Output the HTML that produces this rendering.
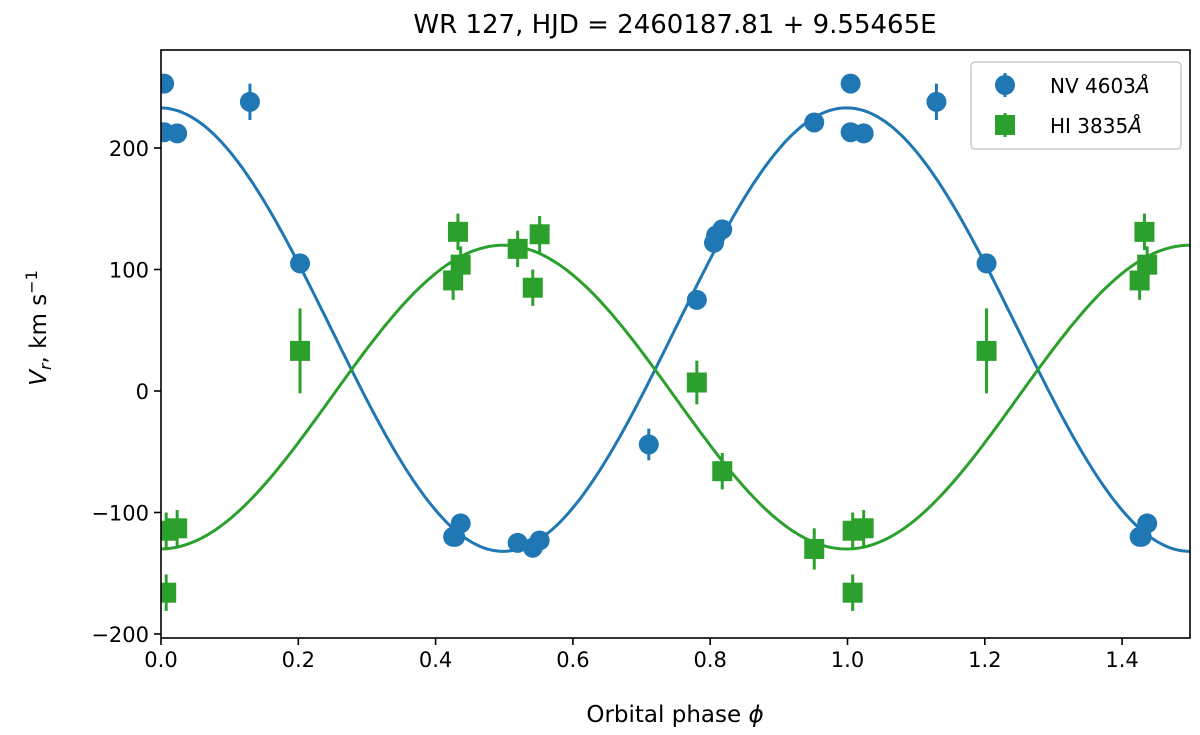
<!DOCTYPE html>
<html><head><meta charset="utf-8"><style>
html,body{margin:0;padding:0;background:#fff;}
svg{display:block;font-family:"DejaVu Sans","Liberation Sans",sans-serif;}
</style></head><body>
<svg id="chart" width="1200" height="735" viewBox="0 0 1200 735">
<defs><clipPath id="clip"><rect x="161" y="50" width="1029" height="588"/></clipPath></defs>
<text x="675" y="33" font-size="26" text-anchor="middle">WR 127, HJD = 2460187.81 + 9.55465E</text>
<g id="curves" clip-path="url(#clip)"></g>
<g id="marks" clip-path="url(#clip)"></g>
<rect x="161" y="50" width="1029" height="588" fill="none" stroke="#000" stroke-width="1.6"/>
<g id="xticks"></g>
<g id="yticks"></g>
<text x="675" y="722" font-size="23" text-anchor="middle">Orbital phase <tspan font-style="italic">ϕ</tspan></text>
<text transform="translate(46,328) rotate(-90)" font-size="23" text-anchor="middle"><tspan font-style="italic">V</tspan><tspan font-style="italic" font-size="16" dy="5">r</tspan><tspan dy="-5">,  km s</tspan><tspan font-size="16" dy="-9">−1</tspan></text>
<g>
<rect x="971" y="62" width="210" height="87" rx="4" fill="#fff" stroke="#ccc" stroke-width="1.5"/>
<g>
<line x1="1005" y1="73" x2="1005" y2="97" stroke="#1f77b4" stroke-width="3"/>
<circle cx="1005" cy="85" r="10" fill="#1f77b4"/>
<text x="1050" y="93" font-size="20">NV 4603<tspan font-style="italic">Å</tspan></text></g>
<g>
<line x1="1005" y1="113" x2="1005" y2="137" stroke="#2ca02c" stroke-width="3"/>
<rect x="995" y="115" width="20" height="20" fill="#2ca02c"/>
<text x="1050" y="133" font-size="20">HI 3835<tspan font-style="italic">Å</tspan></text></g>
</g>
</svg>
<script>
const nvPhase=[0.006,0.006,0.025,0.131,0.204,0.427,0.43,0.438,0.521,0.543,0.553,0.712,0.782,0.807,0.81,0.819,0.953];
const nvVel=[253,213,212,238,105,-120,-120,-109,-125,-129,-123,-44,75,122,128,133,221];
const nvErr=[4,4,4,15,5,5,5,5,5,5,5,13,6,5,5,5,5];
const hiPhase=[0.009,0.009,0.025,0.204,0.427,0.434,0.438,0.521,0.543,0.553,0.782,0.819,0.953];
const hiVel=[-166,-115,-113,33,91,131,104,117,85,129,7,-66,-130];
const hiErr=[15,15,15,35,16,15,15,15,15,15,18,15,17];
const nvFit=[50.5,182.5];
const hiFit=[-5,-125];
const xTicks=[0,0.2,0.4,0.6,0.8,1.0,1.2,1.4];
const yTicks=[-200,-100,0,100,200];
const NS='http://www.w3.org/2000/svg';
const X=p=>160+p*686.5;
const Y=v=>391-v*1.215;
function el(t,a,parent){const e=document.createElementNS(NS,t);for(const k in a)e.setAttribute(k,a[k]);parent.appendChild(e);return e;}
const curves=document.getElementById('curves'),marks=document.getElementById('marks');
[[nvFit,'#1f77b4','nv-fit-curve'],[hiFit,'#2ca02c','hi-fit-curve']].forEach(([f,c,n])=>{
  let d='';for(let i=0;i<=300;i++){const p=i*1.5/300;d+=(i?'L':'M')+X(p).toFixed(1)+','+Y(f[0]+f[1]*Math.cos(2*Math.PI*p)).toFixed(1);}
  const e=el('path',{d:d,fill:'none',stroke:c,'stroke-width':3},curves);
  
  
});
function draw(ph,vel,err,color,sq,name){
  for(let i=0;i<ph.length;i++){
    for(const off of [0,1]){
      const p=ph[i]+off;if(p>1.5)continue;
      const g=el('g',{},marks);
      
      
      el('line',{x1:X(p),x2:X(p),y1:Y(vel[i]+err[i]),y2:Y(vel[i]-err[i]),stroke:color,'stroke-width':3},g);
      if(sq)el('rect',{x:X(p)-10,y:Y(vel[i])-10,width:20,height:20,fill:color},g);
      else el('circle',{cx:X(p),cy:Y(vel[i]),r:10,fill:color},g);
    }
  }
}
draw(hiPhase,hiVel,hiErr,'#2ca02c',true,'hi-point');
draw(nvPhase,nvVel,nvErr,'#1f77b4',false,'nv-point');
const xt=document.getElementById('xticks'),yt=document.getElementById('yticks');
xTicks.forEach(t=>{
  const l=el('line',{x1:X(t)+1,x2:X(t)+1,y1:638,y2:645,stroke:'#000','stroke-width':1.6},xt);
  
  const s=el('text',{x:X(t)+1,y:667,'font-size':21,'text-anchor':'middle'},xt);
  s.textContent=t.toFixed(1);
  
});
yTicks.forEach(t=>{
  const l=el('line',{x1:154,x2:161,y1:Y(t),y2:Y(t),stroke:'#000','stroke-width':1.6},yt);
  
  const s=el('text',{x:149,y:Y(t)+8,'font-size':21,'text-anchor':'end'},yt);
  s.textContent=String(t).replace('-','−');
  
});
</script>
</body></html>
